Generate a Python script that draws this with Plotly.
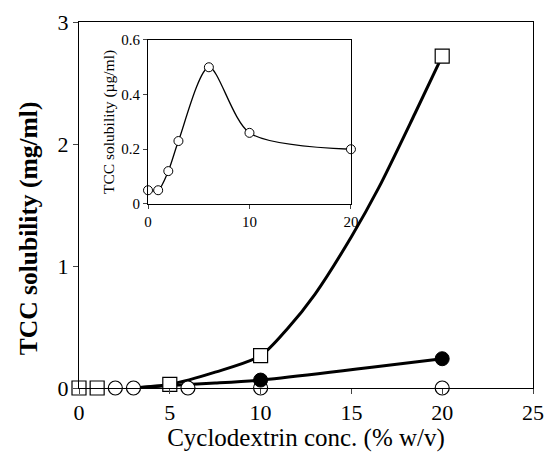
import plotly.graph_objects as go

# Main chart data (markers)
sq_x = [0, 1, 5, 10, 20]
sq_y = [0, 0, 0.03, 0.265, 2.72]
fc_x = [10, 20]
fc_y = [0.065, 0.24]
oc_x = [2, 3, 6, 10, 20]
oc_y = [0, 0, 0, 0, 0]

# Fitted curves
sq_curve_x = [3, 5, 7.5, 10, 11.5, 13, 15, 16.5, 18.5, 20]
sq_curve_y = [0, 0.03, 0.13, 0.265, 0.49, 0.77, 1.24, 1.64, 2.25, 2.72]
fc_curve_x = [3, 5, 7.5, 10, 20]
fc_curve_y = [0, 0.02, 0.04, 0.065, 0.24]

# Inset data
in_x = [0, 1, 2, 3, 6, 10, 20]
in_y = [0.05, 0.05, 0.12, 0.23, 0.5, 0.26, 0.2]

main_ticks = [0, 5, 10, 15, 20, 25]
main_yticks = [0, 1, 2, 3]
in_xticks = [0, 10, 20]
in_yticks = [0, 0.2, 0.4, 0.6]
in_yticklabels = ["0", "0.2", "0.4", "0.6"]

FONT = "Liberation Serif"
fig = go.Figure()

fig.add_trace(go.Scatter(x=sq_curve_x, y=sq_curve_y, mode="lines",
                         line=dict(color="black", width=3, shape="spline", smoothing=0.8),
                         xaxis="x", yaxis="y", showlegend=False, hoverinfo="skip"))
fig.add_trace(go.Scatter(x=fc_curve_x, y=fc_curve_y, mode="lines",
                         line=dict(color="black", width=3, shape="spline", smoothing=0.6),
                         xaxis="x", yaxis="y", showlegend=False, hoverinfo="skip"))
fig.add_trace(go.Scatter(x=oc_x, y=oc_y, mode="markers",
                         marker=dict(symbol="circle", size=14, color="white",
                                     line=dict(color="black", width=1.2)),
                         cliponaxis=False, showlegend=False))
fig.add_trace(go.Scatter(x=sq_x, y=sq_y, mode="markers",
                         marker=dict(symbol="square", size=14, color="white",
                                     line=dict(color="black", width=1.2)),
                         cliponaxis=False, showlegend=False))
fig.add_trace(go.Scatter(x=fc_x, y=fc_y, mode="markers",
                         marker=dict(symbol="circle", size=14, color="black",
                                     line=dict(color="black", width=1)),
                         cliponaxis=False, showlegend=False))

# Inset
fig.add_trace(go.Scatter(x=in_x, y=in_y, mode="lines+markers",
                         line=dict(color="black", width=1.3, shape="spline", smoothing=0.8),
                         marker=dict(symbol="circle", size=9, color="white",
                                     line=dict(color="black", width=1)),
                         xaxis="x2", yaxis="y2", cliponaxis=False, showlegend=False))

fig.update_layout(
    width=544, height=452,
    margin=dict(l=79, r=11, t=22, b=64, autoexpand=False),
    paper_bgcolor="white", plot_bgcolor="white",
    font=dict(family=FONT, color="black"),
    xaxis=dict(range=[0, 25], tickvals=main_ticks, ticks="outside", ticklen=5,
               showline=True, linecolor="black", linewidth=1, mirror=True,
               showgrid=False, zeroline=False, tickfont=dict(size=22, family=FONT),
               automargin=False,
               title=dict(text="Cyclodextrin conc. (% w/v)", font=dict(size=25, family=FONT),
                          standoff=2)),
    yaxis=dict(range=[0, 3], tickvals=main_yticks, ticks="outside", ticklen=5,
               showline=True, linecolor="black", linewidth=1, mirror=True,
               showgrid=False, zeroline=False, tickfont=dict(size=22, family=FONT),
               automargin=False),
    xaxis2=dict(domain=[0.152, 0.599], anchor="y2", range=[0, 20], tickvals=in_xticks,
                ticks="outside", ticklen=4, showline=True, linecolor="black", linewidth=1,
                mirror=True, showgrid=False, zeroline=False, automargin=False,
                tickfont=dict(size=15, family=FONT)),
    yaxis2=dict(domain=[0.503, 0.951], anchor="x2", range=[0, 0.6], tickvals=in_yticks,
                ticktext=in_yticklabels, ticks="outside", ticklen=4, showline=True,
                linecolor="black", linewidth=1, mirror=True, showgrid=False, zeroline=False,
                automargin=False, tickfont=dict(size=15, family=FONT),
                title=dict(text="TCC solubility (µg/ml)", font=dict(size=15.5, family=FONT),
                           standoff=2)),
    annotations=[dict(text="<b>TCC solubility (mg/ml)</b>", textangle=-90,
                      xref="paper", yref="paper", x=-0.112, y=0.437,
                      xanchor="center", yanchor="middle", showarrow=False,
                      font=dict(size=25.5, family=FONT, color="black"))],
)

fig.write_html("out.html", config={"displayModeBar": False},
               post_script="document.body.style.margin='0px';document.body.style.overflow='hidden';")
